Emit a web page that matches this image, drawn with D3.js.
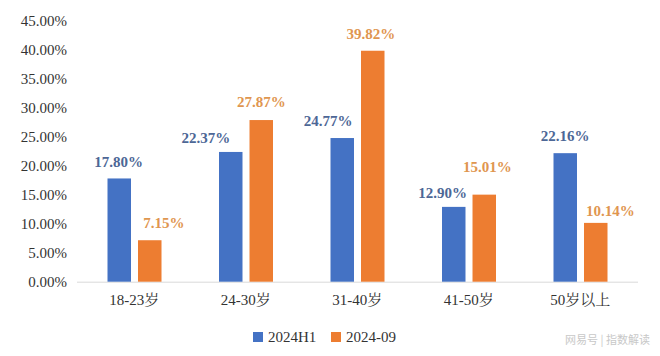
<!DOCTYPE html>
<html><head><meta charset="utf-8">
<script src="https://cdn.jsdelivr.net/npm/d3@7"></script>
<style>body{margin:0;background:#fff}</style>
</head><body>
<svg id="c" width="660" height="356"></svg>
<script>
const categories = ["18-23岁","24-30岁","31-40岁","41-50岁","50岁以上"];
const seriesNames = ["2024H1","2024-09"];
const h1Values = [17.80,22.37,24.77,12.90,22.16];
const sepValues = [7.15,27.87,39.82,15.01,10.14];
const yTicks = [0,5,10,15,20,25,30,35,40,45];

// label placement offsets (layout only): [dx, gap above bar top]
const labelOffsets = [
  [[-0.5,17],[-25,14],[-14,17],[-11,14],[0,17.5]],
  [[14,17.5],[0,18],[-2,17],[3,28],[14.5,12]]
];

const barColors = ["#4472C4","#ED7D31"];
const labelColors = ["#4D6796","#DF9650"];
const serif = '"Liberation Serif","Noto Serif CJK SC",serif';

const svg = d3.select("#c").style("font-family", serif);
const x = d3.scaleBand().domain(categories).range([78.5,636]);
const x1 = d3.scaleBand().domain(seriesNames).range([29,83]).paddingInner(0.23);
const y = d3.scaleLinear().domain([0,45]).range([281.7,20.7]);

svg.append("g").selectAll("text").data(yTicks).join("text")
  .attr("x",67).attr("y",d=>y(d)).attr("dy","0.35em")
  .attr("text-anchor","end").style("font-family",serif).attr("font-size",15)
  .attr("fill","#333").text(d=>d.toFixed(2)+"%");

svg.append("line").attr("x1",77).attr("x2",638).attr("y1",y(0)+0.5).attr("y2",y(0)+0.5)
  .attr("stroke","#d9d9d9").attr("stroke-width",1);

const data = categories.map((c,i)=>({cat:c, i, vals:[h1Values[i],sepValues[i]]}));
const groups = svg.append("g").selectAll("g").data(data).join("g")
  .attr("transform",d=>`translate(${x(d.cat)},0)`);
groups.selectAll("rect").data(d=>d.vals.map((v,j)=>({v,j,i:d.i}))).join("rect")
  .attr("x",d=>x1(seriesNames[d.j])).attr("width",x1.bandwidth())
  .attr("y",d=>y(d.v)).attr("height",d=>y(0)-y(d.v))
  .attr("fill",d=>barColors[d.j]);
groups.selectAll("text.lbl").data(d=>d.vals.map((v,j)=>({v,j,i:d.i}))).join("text")
  .attr("class","lbl")
  .attr("x",d=>x1(seriesNames[d.j])+x1.bandwidth()/2+labelOffsets[d.j][d.i][0])
  .attr("y",d=>y(d.v)-labelOffsets[d.j][d.i][1]).attr("dy","0.35em")
  .attr("text-anchor","middle").style("font-family",serif).attr("font-size",15)
  .attr("font-weight","bold").attr("fill",d=>labelColors[d.j])
  .text(d=>d.v.toFixed(2)+"%");

svg.append("g").selectAll("text").data(categories).join("text")
  .attr("x",d=>x(d)+x.bandwidth()/2).attr("y",300).attr("dy","0.35em")
  .attr("text-anchor","middle").style("font-family",serif).attr("font-size",15)
  .attr("fill","#333").text(d=>d);

const legendX = [253,331];
const lg = svg.append("g").selectAll("g").data(seriesNames).join("g")
  .attr("transform",(d,i)=>`translate(${legendX[i]},332)`);
lg.append("rect").attr("width",10).attr("height",10).attr("fill",(d,i)=>barColors[i]);
lg.append("text").attr("x",15).attr("y",5).attr("dy","0.35em")
  .style("font-family",serif).attr("font-size",15).attr("fill","#333").text(d=>d);

svg.append("text").attr("x",650).attr("y",344).attr("text-anchor","end")
  .style("font-family",'"Noto Sans CJK SC",sans-serif').attr("font-size",11)
  .attr("fill","#c8c8c8").text("网易号 | 指数解读");
</script>
</body></html>
